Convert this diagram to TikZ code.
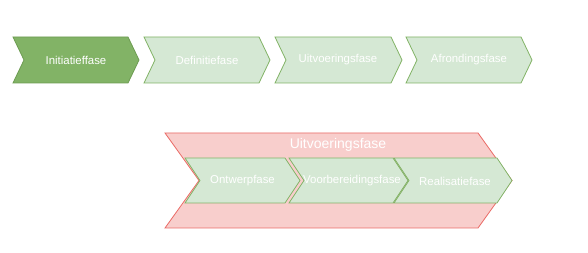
\documentclass[tikz,border=0pt]{standalone}
\usepackage{fontspec}
\setmainfont{Liberation Sans}
\definecolor{gdark}{HTML}{82B366}
\definecolor{gdarkline}{HTML}{6D9C52}
\definecolor{glight}{HTML}{D5E8D4}
\definecolor{gline}{HTML}{82B366}
\definecolor{rfill}{HTML}{F8CECC}
\definecolor{rline}{HTML}{EA6B66}
\newcommand{\chevshape}[6]{%
  \draw[#6] (#1,#2) -- ({#3-#5},#2) -- (#3,{(#2+#4)/2}) -- ({#3-#5},#4) -- (#1,#4) -- ({#1+#5},{(#2+#4)/2}) -- cycle;}
\begin{document}
\begin{tikzpicture}[x=1pt,y=-1pt,
  darkchev/.style={fill=gdark,draw=gdarkline,line width=0.8pt,line join=miter},
  lightchev/.style={fill=glight,draw=gline,line width=0.8pt,line join=miter},
  redchev/.style={fill=rfill,draw=rline,line width=0.8pt,line join=miter},
  lbl/.style={text=white,font=\fontsize{11.4}{13}\selectfont,inner sep=0pt},
  biglbl/.style={text=white,font=\fontsize{14}{16}\selectfont,inner sep=0pt}]
\useasboundingbox[fill=white] (0,0) rectangle (588,253);
% top row
\chevshape{13}{37}{139}{83}{11}{darkchev}
\chevshape{144}{37}{270}{83}{11}{lightchev}
\chevshape{275}{37}{402}{83}{11}{lightchev}
\chevshape{406}{37}{532}{83}{11}{lightchev}
\node[lbl] (init) at (76,60) {Initiatieffase};
\node[lbl] (defi) at (207,60) {Definitiefase};
\node[lbl] (uitv) at (338,60) {Uitvoeringsfase};
\node[lbl] (afro) at (469,60) {Afrondingsfase};
% bottom
\chevshape{165}{133}{512}{228}{34}{redchev}
\node[biglbl] (uitvbig) at (338,145) {Uitvoeringsfase};
\chevshape{185}{158}{300}{203}{15}{lightchev}
\chevshape{289}{158}{408}{203}{15}{lightchev}
\chevshape{394}{158}{512}{203}{15}{lightchev}
\node[lbl] (ontw) at (242.5,181) {Ontwerpfase};
\node[lbl] (voor) at (352,181) {Voorbereidingsfase};
\node[lbl] (real) at (455,181) {Realisatiefase};
\end{tikzpicture}
\end{document}
